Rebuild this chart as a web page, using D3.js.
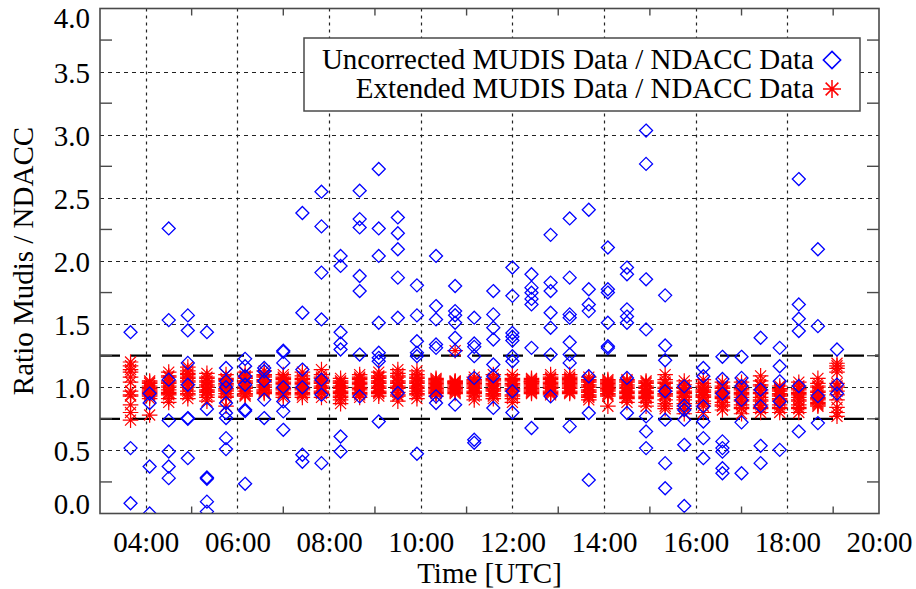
<!DOCTYPE html>
<html>
<head>
<meta charset="utf-8">
<script src="https://cdn.jsdelivr.net/npm/d3@7"></script>
<style>
  html, body { margin: 0; padding: 0; background: #fff; }
  svg { display: block; font-family: "Liberation Serif", "DejaVu Serif", serif; }
</style>
</head>
<body>
<svg id="chart" width="916" height="589"></svg>
<script>
// Measurement slots (UTC), one every 25 minutes
const slotTimes = [
  "03:40","04:05","04:30","04:55","05:20","05:45","06:10","06:35","07:00","07:25",
  "07:50","08:15","08:40","09:05","09:30","09:55","10:20","10:45","11:10","11:35",
  "12:00","12:25","12:50","13:15","13:40","14:05","14:30","14:55","15:20","15:45",
  "16:10","16:35","17:00","17:25","17:50","18:15","18:40","19:05"
];

// Uncorrected MUDIS / NDACC ratios per slot
const uncorrectedRatios = [
  [1.436, 0.518, 0.081],
  [0.875, 0.372, 0.0, 0.95],
  [2.258, 1.532, 1.06, 0.737, 0.491, 0.372, 0.28],
  [1.569, 1.45, 1.193, 0.756, 0.75, 0.438, 1.02],
  [1.436, 0.828, 0.285, 0.275, 0.094, 0.015],
  [1.153, 1.047, 0.875, 0.796, 0.756, 0.597, 0.51, 1.0],
  [1.225, 1.166, 1.087, 0.822, 0.812, 0.235, 1.02],
  [1.153, 1.127, 0.902, 0.756, 1.05],
  [1.29, 1.28, 1.193, 0.888, 0.809, 0.663, 1.0],
  [2.38, 1.59, 1.14, 0.465, 0.41, 1.0],
  [2.549, 2.274, 1.908, 1.537, 1.06, 0.941, 0.399],
  [2.04, 1.961, 1.436, 1.347, 1.299, 0.61, 0.491],
  [2.557, 2.332, 2.266, 1.881, 1.762, 1.259, 0.928],
  [2.729, 2.258, 2.04, 1.511, 1.273, 1.233, 1.206, 0.729],
  [2.345, 2.22, 2.093, 1.868, 1.551, 0.955],
  [1.807, 1.569, 1.365, 1.273, 1.246, 0.473],
  [2.04, 1.643, 1.537, 1.339, 1.312, 0.928, 0.875],
  [1.802, 1.603, 1.57, 1.511, 1.392, 0.862, 1.29],
  [1.551, 1.347, 1.32, 1.246, 1.074, 0.584, 0.56],
  [1.762, 1.577, 1.471, 1.378, 1.18, 1.087, 0.836],
  [1.948, 1.724, 1.43, 1.40, 1.37, 1.246, 1.206, 0.968, 0.80],
  [1.895, 1.789, 1.749, 1.70, 1.656, 1.312, 0.677],
  [2.207, 1.829, 1.762, 1.59, 1.471, 1.259, 0.928],
  [2.337, 1.868, 1.577, 1.551, 1.357, 1.259, 1.193, 0.69],
  [2.406, 1.776, 1.656, 1.603, 1.087, 0.796, 0.266],
  [2.107, 1.776, 1.75, 1.511, 1.325, 1.31],
  [1.948, 1.895, 1.617, 1.56, 1.511, 1.074, 0.796],
  [3.033, 2.769, 1.855, 1.458, 0.769, 0.65, 0.518],
  [1.728, 1.331, 1.214, 0.968, 0.743, 0.399, 0.2],
  [1.007, 0.854, 0.82, 0.743, 0.544, 0.06],
  [1.153, 1.087, 0.849, 0.729, 0.597, 0.438],
  [1.241, 1.066, 0.571, 0.518, 0.49, 0.359, 0.319, 0.95],
  [1.241, 1.074, 1.01, 0.722, 0.319, 0.9],
  [1.392, 0.981, 0.85, 0.536, 0.399],
  [1.312, 1.166, 1.047, 0.888, 0.504],
  [2.649, 1.656, 1.543, 1.445, 1.01, 0.65],
  [2.093, 1.484, 0.716, 0.93],
  [1.299, 1.021, 0.95]
];

// Extended MUDIS / NDACC ratios per slot
const extendedRatios = [
  [1.20, 1.17, 1.14, 1.12, 1.08, 1.04, 0.97, 0.94, 0.93, 0.86, 0.80, 0.74],
  [1.05, 1.04, 1.03, 1.01, 1.00, 0.99, 0.98, 0.97, 0.96, 0.95, 0.94, 0.93, 0.91, 0.78],
  [1.12, 1.09, 1.08, 1.05, 1.04, 1.03, 1.01, 1.00, 0.98, 0.96, 0.95, 0.94, 0.91, 0.88],
  [1.16, 1.13, 1.11, 1.10, 1.08, 1.07, 1.05, 1.04, 1.02, 1.00, 0.97, 0.95, 0.94, 0.91],
  [1.11, 1.08, 1.07, 1.05, 1.04, 1.02, 1.01, 1.00, 0.98, 0.97, 0.96, 0.94, 0.92, 0.89],
  [1.10, 1.07, 1.06, 1.05, 1.03, 1.02, 1.01, 0.99, 0.98, 0.97, 0.95, 0.93, 0.92, 0.85],
  [1.12, 1.09, 1.08, 1.07, 1.05, 1.04, 1.03, 1.01, 1.00, 0.99, 0.97, 0.95, 0.94, 0.93],
  [1.13, 1.10, 1.09, 1.08, 1.06, 1.05, 1.04, 1.02, 1.01, 1.00, 0.98, 0.97, 0.96, 0.95],
  [1.10, 1.08, 1.07, 1.06, 1.04, 1.03, 1.02, 1.00, 0.99, 0.98, 0.96, 0.95, 0.94, 0.92],
  [1.12, 1.09, 1.07, 1.06, 1.04, 1.03, 1.02, 1.00, 0.99, 0.98, 0.96, 0.95, 0.94, 0.92],
  [1.14, 1.10, 1.08, 1.07, 1.05, 1.04, 1.03, 1.01, 1.00, 0.99, 0.97, 0.96, 0.95, 0.92],
  [1.07, 1.05, 1.04, 1.03, 1.01, 1.00, 0.99, 0.97, 0.96, 0.95, 0.93, 0.92, 0.90, 0.87],
  [1.10, 1.08, 1.07, 1.06, 1.04, 1.03, 1.02, 1.00, 0.99, 0.98, 0.96, 0.95, 0.94, 0.92],
  [1.12, 1.09, 1.08, 1.07, 1.05, 1.04, 1.03, 1.01, 1.00, 0.99, 0.97, 0.96, 0.95, 0.93],
  [1.14, 1.11, 1.09, 1.08, 1.05, 1.04, 1.03, 1.01, 1.00, 0.99, 0.96, 0.94, 0.93, 0.89],
  [1.13, 1.10, 1.08, 1.07, 1.05, 1.04, 1.03, 1.01, 1.00, 0.99, 0.97, 0.95, 0.94, 0.91],
  [1.07, 1.06, 1.05, 1.04, 1.03, 1.02, 1.01, 1.00, 0.99, 0.98, 0.97, 0.96, 0.95, 0.93],
  [1.29, 1.05, 1.045, 1.04, 1.035, 1.03, 1.02, 1.01, 1.00, 0.99, 0.98, 0.97, 0.96, 0.95],
  [1.08, 1.06, 1.05, 1.04, 1.03, 1.02, 1.01, 1.00, 0.99, 0.97, 0.96, 0.95, 0.93, 0.90],
  [1.10, 1.07, 1.06, 1.05, 1.03, 1.02, 1.01, 0.99, 0.98, 0.97, 0.95, 0.94, 0.93, 0.91],
  [1.10, 1.07, 1.06, 1.05, 1.03, 1.02, 1.01, 0.99, 0.98, 0.97, 0.94, 0.93, 0.91, 0.88],
  [1.07, 1.06, 1.05, 1.045, 1.04, 1.03, 1.02, 1.01, 1.00, 0.99, 0.98, 0.97, 0.96, 0.95],
  [1.10, 1.08, 1.07, 1.06, 1.04, 1.03, 1.02, 1.01, 1.00, 0.99, 0.97, 0.96, 0.95, 0.94],
  [1.10, 1.08, 1.07, 1.06, 1.05, 1.04, 1.03, 1.02, 1.01, 1.00, 0.99, 0.97, 0.96, 0.95],
  [1.08, 1.06, 1.05, 1.04, 1.02, 1.01, 1.00, 0.98, 0.97, 0.96, 0.94, 0.93, 0.92, 0.90],
  [1.06, 1.05, 1.04, 1.03, 1.02, 1.01, 1.00, 0.99, 0.98, 0.97, 0.95, 0.94, 0.93, 0.85],
  [1.06, 1.05, 1.04, 1.02, 1.01, 1.00, 0.99, 0.97, 0.96, 0.95, 0.93, 0.92, 0.91, 0.88],
  [1.05, 1.04, 1.03, 1.01, 1.00, 0.99, 0.97, 0.96, 0.95, 0.93, 0.92, 0.91, 0.88, 0.85],
  [1.10, 1.06, 1.04, 1.03, 1.00, 0.99, 0.97, 0.95, 0.94, 0.93, 0.90, 0.87, 0.85, 0.83],
  [1.05, 1.02, 1.00, 0.99, 0.97, 0.96, 0.95, 0.93, 0.92, 0.90, 0.87, 0.85, 0.83, 0.79],
  [1.06, 1.03, 1.01, 1.00, 0.98, 0.97, 0.96, 0.94, 0.93, 0.92, 0.89, 0.87, 0.85, 0.80],
  [1.04, 1.01, 1.00, 0.99, 0.97, 0.96, 0.95, 0.93, 0.92, 0.91, 0.88, 0.86, 0.85, 0.82],
  [1.04, 1.01, 0.99, 0.98, 0.96, 0.95, 0.94, 0.92, 0.90, 0.89, 0.86, 0.84, 0.83, 0.79],
  [1.09, 1.05, 1.02, 1.01, 0.98, 0.96, 0.95, 0.92, 0.90, 0.89, 0.86, 0.84, 0.83, 0.80],
  [1.01, 0.99, 0.98, 0.97, 0.95, 0.94, 0.93, 0.91, 0.90, 0.89, 0.86, 0.84, 0.83, 0.80],
  [1.04, 1.01, 0.99, 0.98, 0.96, 0.95, 0.94, 0.92, 0.90, 0.89, 0.86, 0.84, 0.83, 0.80],
  [1.07, 1.03, 1.01, 1.00, 0.97, 0.96, 0.94, 0.92, 0.91, 0.90, 0.88, 0.87, 0.86, 0.85],
  [1.19, 1.17, 1.15, 1.12, 1.03, 1.01, 1.00, 0.97, 0.94, 0.90, 0.84, 0.80, 0.77]
];

// Axis ticks and reference lines
const hourLabels = ["04:00","06:00","08:00","10:00","12:00","14:00","16:00","18:00","20:00"];
const hourMinorTicks = ["05:00","07:00","09:00","11:00","13:00","15:00","17:00","19:00"];
const ratioTicks = [0.0, 0.5, 1.0, 1.5, 2.0, 2.5, 3.0, 3.5, 4.0];
const ratioMinorTicks = [0.25, 0.75, 1.25, 1.75, 2.25, 2.75, 3.25, 3.75];
const limitLines = [0.75, 1.25];
const legendLabels = ["Uncorrected MUDIS Data / NDACC Data", "Extended MUDIS Data / NDACC Data"];

const parseTime = d3.utcParse("%H:%M");
const fmtTime = d3.utcFormat("%H:%M");

const plot = { left: 100, right: 879, top: 8.5, bottom: 513.5 };
const svg = d3.select("#chart");

const x = d3.scaleUtc()
  .domain([parseTime("03:00"), parseTime("20:00")])
  .range([plot.left, plot.right]);
const y = d3.scaleLinear().domain([0, 4]).range([plot.bottom, plot.top]);

const BLUE = "#0000ff", RED = "#ff0000", FRAME = "#4a4a4a";

// Grid: dotted lines at labelled hours and every half unit of ratio
const grid = svg.append("g");
grid.selectAll("line.vg")
  .data(hourLabels.slice(0, -1).map(parseTime))
  .join("line")
  .attr("x1", d => Math.round(x(d)) + 0.5).attr("x2", d => Math.round(x(d)) + 0.5)
  .attr("y1", plot.top).attr("y2", plot.bottom)
  .attr("stroke", "#222").attr("stroke-width", 1.2).attr("stroke-dasharray", "3,4");
grid.selectAll("line.hg")
  .data(ratioTicks.slice(1, -1))
  .join("line")
  .attr("x1", plot.left).attr("x2", plot.right)
  .attr("y1", d => Math.round(y(d)) + 0.5).attr("y2", d => Math.round(y(d)) + 0.5)
  .attr("stroke", "#222").attr("stroke-width", 1.1).attr("stroke-dasharray", "4,4");

// Thick long-dashed limit lines
svg.append("g").selectAll("line")
  .data(limitLines)
  .join("line")
  .attr("x1", plot.left).attr("x2", plot.right)
  .attr("y1", d => y(d)).attr("y2", d => y(d))
  .attr("stroke", "#000").attr("stroke-width", 2.2).attr("stroke-dasharray", "20,11");

// Data marks, clipped to the plot area
svg.append("clipPath").attr("id", "plotclip")
  .append("rect")
  .attr("x", plot.left).attr("y", plot.top)
  .attr("width", plot.right - plot.left).attr("height", plot.bottom - plot.top);
const marks = svg.append("g").attr("clip-path", "url(#plotclip)");

function asteriskPath(r) {
  const d = r * Math.SQRT1_2;
  return `M${-r},0L${r},0M0,${-r}L0,${r}M${-d},${-d}L${d},${d}M${-d},${d}L${d},${-d}`;
}
function diamondPath(r) {
  return `M0,${-r}L${r},0L0,${r}L${-r},0Z`;
}

const extendedPoints = slotTimes.flatMap((t, i) =>
  extendedRatios[i].map(v => ({ t: parseTime(t), v })));
const uncorrectedPoints = slotTimes.flatMap((t, i) =>
  uncorrectedRatios[i].map(v => ({ t: parseTime(t), v })));

marks.append("g").selectAll("path")
  .data(extendedPoints)
  .join("path")
  .attr("transform", d => `translate(${x(d.t)},${y(d.v)})`)
  .attr("d", asteriskPath(7.8))
  .attr("fill", "none").attr("stroke", RED).attr("stroke-width", 1.2);

marks.append("g").selectAll("path")
  .data(uncorrectedPoints)
  .join("path")
  .attr("transform", d => `translate(${x(d.t)},${y(d.v)})`)
  .attr("d", diamondPath(6.5))
  .attr("fill", "none").attr("stroke", BLUE).attr("stroke-width", 1.3);

// Frame and inward ticks
const ticks = svg.append("g").attr("stroke", FRAME).attr("stroke-width", 1.4);
ticks.selectAll("line.bt")
  .data(hourMinorTicks.map(parseTime))
  .join("line")
  .attr("x1", d => x(d)).attr("x2", d => x(d))
  .attr("y1", plot.bottom).attr("y2", plot.bottom - 7);
ticks.selectAll("line.tt")
  .data(hourMinorTicks.map(parseTime))
  .join("line")
  .attr("x1", d => x(d)).attr("x2", d => x(d))
  .attr("y1", plot.top).attr("y2", plot.top + 7);
ticks.selectAll("line.lt")
  .data(ratioMinorTicks)
  .join("line")
  .attr("x1", plot.left).attr("x2", plot.left + 12)
  .attr("y1", d => y(d)).attr("y2", d => y(d));
ticks.selectAll("line.rt")
  .data(ratioMinorTicks)
  .join("line")
  .attr("x1", plot.right).attr("x2", plot.right - 12)
  .attr("y1", d => y(d)).attr("y2", d => y(d));

svg.append("rect")
  .attr("x", plot.left).attr("y", plot.top)
  .attr("width", plot.right - plot.left).attr("height", plot.bottom - plot.top)
  .attr("fill", "none").attr("stroke", FRAME).attr("stroke-width", 1.6);

// Axis labels
const xAxis = svg.append("g")
  .attr("transform", `translate(0,${plot.bottom})`)
  .call(d3.axisBottom(x).tickValues(hourLabels.map(parseTime)).tickFormat(fmtTime).tickSize(0).tickPadding(0));
xAxis.select(".domain").remove();
xAxis.selectAll("text")
  .attr("y", 38).attr("dy", 0)
  .attr("fill", "#000").style("font-size", "29px").style("font-family", "Liberation Serif, serif");

const yAxis = svg.append("g")
  .attr("transform", `translate(${plot.left},0)`)
  .call(d3.axisLeft(y).tickValues(ratioTicks).tickFormat(d3.format(".1f")).tickSize(0).tickPadding(10));
yAxis.select(".domain").remove();
yAxis.selectAll("text")
  .attr("dy", d => d === 4 ? "0.64em" : d === 0 ? "0em" : "0.36em")
  .attr("fill", "#000").style("font-size", "29px").style("font-family", "Liberation Serif, serif");

svg.append("text")
  .attr("x", (plot.left + plot.right) / 2).attr("y", 583)
  .attr("text-anchor", "middle").style("font-size", "29px")
  .text("Time [UTC]");

svg.append("text")
  .attr("transform", `translate(33,${(plot.top + plot.bottom) / 2}) rotate(-90)`)
  .attr("text-anchor", "middle").style("font-size", "29px")
  .text("Ratio Mudis / NDACC");

// Legend
const legend = svg.append("g");
legend.append("rect")
  .attr("x", 304).attr("y", 38).attr("width", 556).attr("height", 73)
  .attr("fill", "#fff").attr("stroke", FRAME).attr("stroke-width", 1.5);
legend.selectAll("text")
  .data(legendLabels)
  .join("text")
  .attr("x", 814).attr("y", (d, i) => 69 + i * 29)
  .attr("text-anchor", "end").style("font-size", "29px")
  .text(d => d);
legend.append("path")
  .attr("transform", "translate(832,60)")
  .attr("d", diamondPath(8.6))
  .attr("fill", "none").attr("stroke", BLUE).attr("stroke-width", 1.6);
legend.append("path")
  .attr("transform", "translate(832,89)")
  .attr("d", asteriskPath(9))
  .attr("fill", "none").attr("stroke", RED).attr("stroke-width", 1.5);
</script>
</body>
</html>
